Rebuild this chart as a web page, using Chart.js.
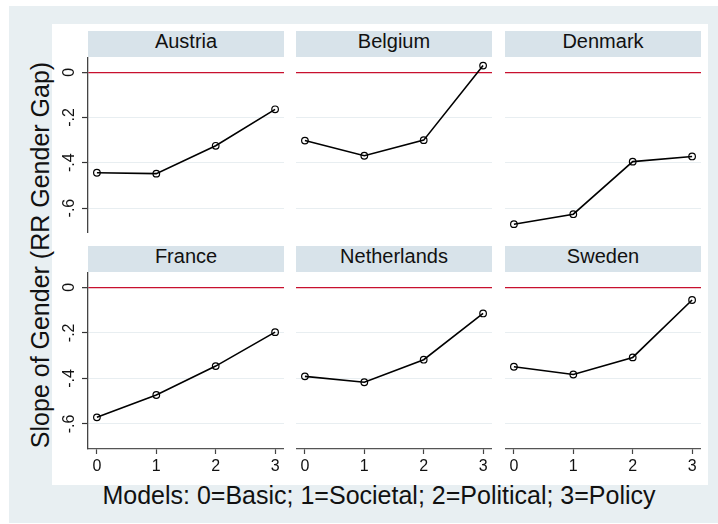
<!DOCTYPE html>
<html><head><meta charset="utf-8">
<script src="https://cdn.jsdelivr.net/npm/chart.js@4"></script>
<style>
html,body{margin:0;padding:0;background:#fff;width:718px;height:524px;overflow:hidden;font-family:"Liberation Sans",Arial,sans-serif;}
#bg{position:absolute;left:9px;top:6px;width:709px;height:517px;background:#e8eff2;}
#inner{position:absolute;left:52px;top:24px;width:656px;height:461px;background:#fff;}
.strip{position:absolute;height:26px;line-height:21px;background:#d8e3ea;text-align:center;font-size:20px;color:#111;}
canvas{position:absolute;}
.title{position:absolute;font-size:25px;line-height:30px;height:30px;text-align:center;color:#111;white-space:nowrap;}
</style></head><body>
<div id="bg"></div>
<div id="inner"></div>
<div id="ytitle" class="title" style="left:-210px;top:239.5px;width:500px;transform:rotate(-90deg);">Slope of Gender (RR Gender Gap)</div>
<div id="xtitle" class="title" style="left:79px;top:480px;width:600px;">Models: 0=Basic; 1=Societal; 2=Political; 3=Policy</div>
<script>
const models = [0, 1, 2, 3];
const xTickLabels = ['0', '1', '2', '3'];
const yTickValues = [0, -0.2, -0.4, -0.6];
const yTickLabels = ['0', '-.2', '-.4', '-.6'];
const countries = ['Austria', 'Belgium', 'Denmark', 'France', 'Netherlands', 'Sweden'];
const austria = [-0.444, -0.448, -0.325, -0.164];
const belgium = [-0.302, -0.369, -0.300, 0.029];
const denmark = [-0.671, -0.627, -0.395, -0.372];
const france = [-0.571, -0.473, -0.346, -0.197];
const netherlands = [-0.391, -0.417, -0.318, -0.115];
const sweden = [-0.349, -0.383, -0.308, -0.056];
const seriesByCountry = [austria, belgium, denmark, france, netherlands, sweden];

const colLeft = [88, 296, 505];
const rowTop = [57, 272];
const plotW = 196;
const plotH = [176, 177];
const yAxisW = 36, xAxisH = 30;
const yMin = -0.71, yMax = 0.067;
const xMin = -0.15, xMax = 3.15;
const FONT = '"Liberation Sans", Arial, sans-serif';

function zeroPad(s) { s.paddingTop = 0; s.paddingBottom = 0; s.paddingLeft = 0; s.paddingRight = 0; }

countries.forEach((name, i) => {
  const r = Math.floor(i / 3), c = i % 3;
  const strip = document.createElement('div');
  strip.className = 'strip';
  strip.style.left = colLeft[c] + 'px';
  strip.style.top = (rowTop[r] - 26) + 'px';
  strip.style.width = plotW + 'px';
  strip.textContent = name;
  document.body.appendChild(strip);

  const cv = document.createElement('canvas');
  const w = plotW + (c === 0 ? yAxisW : 0);
  const h = plotH[r] + (r === 1 ? xAxisH : 0);
  cv.width = w; cv.height = h;
  cv.style.width = w + 'px'; cv.style.height = h + 'px';
  cv.style.left = (c === 0 ? colLeft[c] - yAxisW : colLeft[c]) + 'px';
  cv.style.top = rowTop[r] + 'px';
  document.body.appendChild(cv);

  const vals = seriesByCountry[i];
  new Chart(cv, {
    type: 'line',
    data: {
      datasets: [{
        data: models.map((m, k) => ({ x: m, y: vals[k] })),
        borderColor: '#000', borderWidth: 1.6,
        pointRadius: 3.3, pointBorderWidth: 1.2,
        pointBorderColor: '#000', pointBackgroundColor: 'rgba(0,0,0,0)',
        fill: false, tension: 0, clip: false
      }]
    },
    options: {
      responsive: false, animation: false, devicePixelRatio: 1,
      layout: { padding: 0, autoPadding: false },
      plugins: { legend: { display: false }, tooltip: { enabled: false } },
      scales: {
        x: {
          type: 'linear', min: xMin, max: xMax, display: r === 1,
          afterBuildTicks: s => { s.ticks = models.map(v => ({ value: v })); },
          afterFit: s => { s.height = r === 1 ? xAxisH : 0; zeroPad(s); },
          border: { display: true, color: '#555', width: 1.3 },
          grid: { drawOnChartArea: false, drawTicks: true, tickLength: 5, tickColor: '#444', tickWidth: 1.2 },
          ticks: {
            font: { family: FONT, size: 16 }, color: '#111', padding: 3,
            minRotation: 0, maxRotation: 0, autoSkip: false,
            callback: v => { const k = models.indexOf(v); return k >= 0 ? xTickLabels[k] : ''; }
          }
        },
        y: {
          type: 'linear', min: yMin, max: yMax, position: 'left',
          afterBuildTicks: s => { s.ticks = yTickValues.map(v => ({ value: v })); },
          afterFit: s => { s.width = c === 0 ? yAxisW : 0; zeroPad(s); },
          border: { display: c === 0, color: '#444', width: 1.3 },
          grid: {
            color: ctx => (ctx.tick && ctx.tick.value === 0) ? '#c8102e' : '#e8eef1',
            lineWidth: ctx => (ctx.tick && ctx.tick.value === 0) ? 1.3 : 1,
            drawTicks: c === 0, tickLength: 6, tickColor: '#333', tickWidth: 1.2
          },
          ticks: {
            display: c === 0, minRotation: 90, maxRotation: 90, crossAlign: 'center', padding: 3,
            font: { family: FONT, size: 16 }, color: '#111',
            callback: v => { const k = yTickValues.findIndex(t => Math.abs(t - v) < 1e-9); return k >= 0 ? yTickLabels[k] : ''; }
          }
        }
      }
    }
  });
});
</script>
</body></html>
